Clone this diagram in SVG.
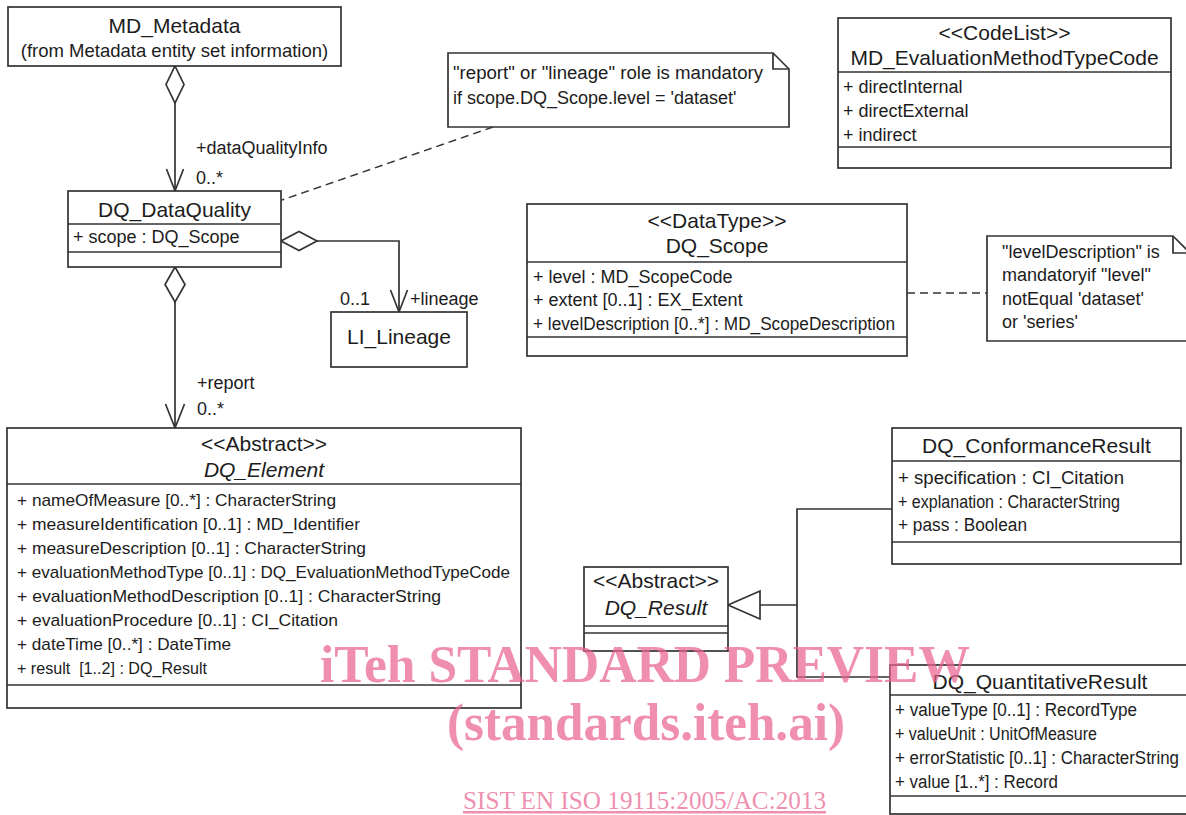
<svg xmlns="http://www.w3.org/2000/svg" width="1186" height="815" viewBox="0 0 1186 815">
<style>
.box{fill:#fff;stroke:#333;stroke-width:1.7}
.ln{fill:none;stroke:#333;stroke-width:1.7}
.dash{fill:none;stroke:#333;stroke-width:1.5;stroke-dasharray:8 5}
.dia{fill:#fff;stroke:#333;stroke-width:1.7}
.t{font-family:"Liberation Sans",Arial,sans-serif;fill:#1c1c1c}
.ti{font-size:21px;text-anchor:middle}
.at{font-size:18px}
.ae{font-size:17px}
.it{font-style:italic}
.wm{font-family:"Liberation Serif","Times New Roman",serif;fill:#e9638f;fill-opacity:0.72}
</style>

<g id="connectors">
<line class="ln" x1="175" y1="103" x2="175" y2="191"/>
<polyline class="ln" points="166.5,169 175,191 183.5,169"/>
<line class="ln" x1="175" y1="302" x2="175" y2="428"/>
<polyline class="ln" points="165.5,404 175,428 184.5,404"/>
<polyline class="ln" points="317,241 399,241 399,312"/>
<polyline class="ln" points="390.5,290 399,312 407.5,290"/>
<polygon class="dia" points="175,66 184,84.5 175,103 166,84.5"/>
<polygon class="dia" points="175,267 185,284.5 175,302 165,284.5"/>
<polygon class="dia" points="281,241 299,231.5 317,241 299,250.5"/>
<line class="dash" x1="493" y1="127" x2="282" y2="200"/>
<line class="dash" x1="907" y1="293" x2="987" y2="293"/>
<polyline class="ln" points="892,509 797,509 797,677 890,677"/>
<line class="ln" x1="760" y1="605" x2="797" y2="605"/>
<polygon class="dia" points="728,605 760,591 760,619"/>
<text class="t at" x="196" y="154">+dataQualityInfo</text>
<text class="t at" x="196" y="184">0..*</text>
<text class="t at" x="197" y="389">+report</text>
<text class="t at" x="197" y="415">0..*</text>
<text class="t at" x="340" y="305">0..1</text>
<text class="t at" x="410" y="305">+lineage</text>
</g>

<g id="MD_Metadata">
<rect class="box" x="8" y="7" width="333" height="59"/>
<text class="t ti" x="174.5" y="33">MD_Metadata</text>
<text class="t" x="174.5" y="57" font-size="18.5" text-anchor="middle">(from Metadata entity set information)</text>
</g>

<g id="DQ_DataQuality">
<rect class="box" x="68" y="191" width="213" height="76"/>
<line class="ln" x1="68" y1="224" x2="281" y2="224"/>
<line class="ln" x1="68" y1="252" x2="281" y2="252"/>
<text class="t ti" x="174.5" y="217">DQ_DataQuality</text>
<text class="t at" x="73" y="243">+ scope : DQ_Scope</text>
</g>

<g id="LI_Lineage">
<rect class="box" x="331" y="312" width="136" height="55"/>
<text class="t ti" x="399" y="344">LI_Lineage</text>
</g>

<g id="note_report">
<polygon class="box" points="448,53 773,53 789,69 789,127 448,127"/>
<polyline class="ln" points="773,53 773,69 789,69"/>
<text class="t at" x="453" y="79" textLength="310" lengthAdjust="spacingAndGlyphs">"report" or "lineage" role is mandatory</text>
<text class="t at" x="453" y="104">if scope.DQ_Scope.level = 'dataset'</text>
</g>

<g id="MD_EvaluationMethodTypeCode">
<rect class="box" x="838" y="18" width="333" height="150"/>
<line class="ln" x1="838" y1="72" x2="1171" y2="72"/>
<line class="ln" x1="838" y1="147" x2="1171" y2="147"/>
<text class="t ti" x="1004.5" y="40">&lt;&lt;CodeList&gt;&gt;</text>
<text class="t ti" x="1004.5" y="65">MD_EvaluationMethodTypeCode</text>
<text class="t at" x="843" y="93">+ directInternal</text>
<text class="t at" x="843" y="117">+ directExternal</text>
<text class="t at" x="843" y="141">+ indirect</text>
</g>

<g id="DQ_Scope">
<rect class="box" x="527" y="204" width="380" height="152"/>
<line class="ln" x1="527" y1="262" x2="907" y2="262"/>
<line class="ln" x1="527" y1="337" x2="907" y2="337"/>
<text class="t ti" x="717" y="228">&lt;&lt;DataType&gt;&gt;</text>
<text class="t ti" x="717" y="253">DQ_Scope</text>
<text class="t at" x="533" y="283">+ level : MD_ScopeCode</text>
<text class="t at" x="533" y="306">+ extent [0..1] :  EX_Extent</text>
<text class="t at" x="533" y="330" textLength="362" lengthAdjust="spacingAndGlyphs">+ levelDescription [0..*] : MD_ScopeDescription</text>
</g>

<g id="note_level">
<polygon class="box" points="987,236 1173,236 1190,253 1190,341 987,341"/>
<polyline class="ln" points="1173,236 1173,253 1190,253"/>
<text class="t at" x="1002" y="258">"levelDescription" is</text>
<text class="t at" x="1002" y="281">mandatoryif "level"</text>
<text class="t at" x="1002" y="305">notEqual 'dataset'</text>
<text class="t at" x="1002" y="328">or 'series'</text>
</g>

<g id="DQ_Element">
<rect class="box" x="7" y="428" width="514" height="280"/>
<line class="ln" x1="7" y1="484" x2="521" y2="484"/>
<line class="ln" x1="7" y1="685" x2="521" y2="685"/>
<text class="t ti" x="264" y="451">&lt;&lt;Abstract&gt;&gt;</text>
<text class="t ti it" x="264" y="477">DQ_Element</text>
<text class="t ae" x="17" y="506" textLength="319" lengthAdjust="spacingAndGlyphs">+ nameOfMeasure [0..*] : CharacterString</text>
<text class="t ae" x="17" y="530" textLength="343" lengthAdjust="spacingAndGlyphs">+ measureIdentification [0..1] : MD_Identifier</text>
<text class="t ae" x="17" y="554" textLength="349" lengthAdjust="spacingAndGlyphs">+ measureDescription [0..1] : CharacterString</text>
<text class="t ae" x="17" y="578" textLength="493" lengthAdjust="spacingAndGlyphs">+ evaluationMethodType [0..1] : DQ_EvaluationMethodTypeCode</text>
<text class="t ae" x="17" y="602" textLength="424" lengthAdjust="spacingAndGlyphs">+ evaluationMethodDescription [0..1] : CharacterString</text>
<text class="t ae" x="17" y="626" textLength="321" lengthAdjust="spacingAndGlyphs">+ evaluationProcedure [0..1] : CI_Citation</text>
<text class="t ae" x="17" y="650" textLength="214" lengthAdjust="spacingAndGlyphs">+ dateTime [0..*] : DateTime</text>
<text class="t ae" x="17" y="674" textLength="190" lengthAdjust="spacingAndGlyphs">+ result&#160; [1..2] : DQ_Result</text>
</g>

<g id="DQ_ConformanceResult">
<rect class="box" x="892" y="428" width="289" height="136"/>
<line class="ln" x1="892" y1="461" x2="1181" y2="461"/>
<line class="ln" x1="892" y1="542" x2="1181" y2="542"/>
<text class="t ti" x="1036.5" y="453">DQ_ConformanceResult</text>
<text class="t at" x="898" y="484" textLength="226" lengthAdjust="spacingAndGlyphs">+ specification : CI_Citation</text>
<text class="t at" x="898" y="508" textLength="222" lengthAdjust="spacingAndGlyphs">+ explanation : CharacterString</text>
<text class="t at" x="898" y="531" textLength="129" lengthAdjust="spacingAndGlyphs">+ pass : Boolean</text>
</g>

<g id="DQ_Result">
<rect class="box" x="584" y="567" width="144" height="84"/>
<line class="ln" x1="584" y1="626" x2="728" y2="626"/>
<line class="ln" x1="584" y1="633" x2="728" y2="633"/>
<text class="t ti" x="656" y="588" font-size="20">&lt;&lt;Abstract&gt;&gt;</text>
<text class="t ti it" x="656" y="615">DQ_Result</text>
</g>

<g id="DQ_QuantitativeResult">
<rect class="box" x="890" y="665" width="305" height="149"/>
<line class="ln" x1="890" y1="695" x2="1195" y2="695"/>
<line class="ln" x1="890" y1="796" x2="1195" y2="796"/>
<text class="t ti" x="1040" y="689">DQ_QuantitativeResult</text>
<text class="t at" x="895" y="716" textLength="242" lengthAdjust="spacingAndGlyphs">+ valueType [0..1] : RecordType</text>
<text class="t at" x="895" y="740" textLength="202" lengthAdjust="spacingAndGlyphs">+ valueUnit : UnitOfMeasure</text>
<text class="t at" x="895" y="764" textLength="284" lengthAdjust="spacingAndGlyphs">+ errorStatistic [0..1] : CharacterString</text>
<text class="t at" x="895" y="788" textLength="163" lengthAdjust="spacingAndGlyphs">+ value [1..*] : Record</text>
</g>

<g id="watermark">
<text class="wm" x="320" y="682" font-size="52" font-weight="bold" textLength="650" lengthAdjust="spacingAndGlyphs">iTeh STANDARD PREVIEW</text>
<text class="wm" x="447" y="740" font-size="52" font-weight="bold" textLength="398" lengthAdjust="spacingAndGlyphs">(standards.iteh.ai)</text>
<text class="wm" x="463" y="809" font-size="25" text-decoration="underline" textLength="363" lengthAdjust="spacingAndGlyphs">SIST EN ISO 19115:2005/AC:2013</text>
</g>
</svg>
